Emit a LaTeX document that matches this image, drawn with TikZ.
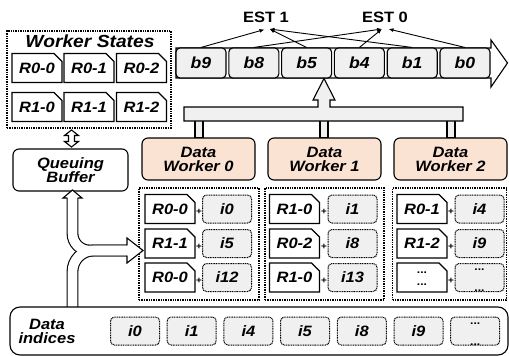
\documentclass[tikz,border=0pt]{standalone}
\usepackage{fontspec}
\setmainfont{Liberation Sans}[FakeStretch=1.1]
\usetikzlibrary{arrows.meta,shapes.misc,calc}
\definecolor{peach}{HTML}{FBE3D4}
\definecolor{lgray}{HTML}{F0F0F0}
\begin{document}
\begin{tikzpicture}[x=1pt,y=-1pt,
  lab/.style={font=\fontsize{15}{16}\selectfont\bfseries\itshape},
  dotbox/.style={draw, line width=1.4pt, dash pattern=on 1.4pt off 1pt},
  ibox/.style={lab, draw, line width=1pt, dash pattern=on 1pt off 0.7pt, fill=lgray, rounded corners=4pt, minimum width=49pt, minimum height=28pt, inner sep=0pt},
  rbox/.style={lab, draw, line width=1.1pt, fill=white, chamfered rectangle, chamfered rectangle corners=north east, chamfered rectangle xsep=4pt, chamfered rectangle ysep=4pt, minimum width=50pt, minimum height=29pt, inner sep=0pt},
  bblock/.style={lab, font=\fontsize{16}{17}\selectfont\bfseries\itshape, draw, line width=1.1pt, fill=lgray, rounded corners=4pt, minimum width=50pt, minimum height=30pt, inner sep=0pt},
  worker/.style={lab, align=center, draw, line width=1.1pt, fill=peach, rounded corners=6pt, minimum width=113pt, minimum height=42pt, inner sep=0pt},
  plus/.style={font=\fontsize{9}{9}\selectfont\bfseries, inner sep=0pt},
  dots/.style={font=\fontsize{11}{11}\selectfont\bfseries, inner sep=0pt},
  est/.style={-{Latex[length=5pt,width=4pt]}, line width=0.9pt},
  hollow/.style={draw, line width=1.1pt, fill=white},
  edgeline/.style={line width=11.8pt},
  coreline/.style={line width=9.6pt, white}
]
\path[use as bounding box, fill=white] (0,0) rectangle (509,356);

% ---------- big timeline arrow ----------
\draw[hollow] (176,48) -- (491,48) -- (491,40) -- (507.5,63) -- (491,87) -- (491,78) -- (176,78) -- cycle;
\foreach \n/\k in {b9/0,b8/1,b5/2,b4/3,b1/4,b0/5}{
  \node[bblock] (\n) at ({201+52.8*\k},63) {\n};
}
\node[font=\fontsize{15}{16}\selectfont\bfseries, anchor=base] (est1) at (266,23) {EST 1};
\node[font=\fontsize{15}{16}\selectfont\bfseries, anchor=base] (est0) at (385,23) {EST 0};
\coordinate (t1a) at (264.5,29.5);
\coordinate (t1b) at (269.5,29);
\coordinate (t0a) at (382,29);
\coordinate (t0b) at (388.5,29);
\draw[est] (b9.north) -- (t1a);
\draw[est] (b5.north) -- (t1b);
\draw[est] (b1.north) -- (t1b);
\draw[est] (b8.north) -- (t0a);
\draw[est] (b4.north) -- (t0a);
\draw[est] (b0.north) -- (t0b);

% ---------- worker states ----------
\node[dotbox, fill=white, minimum width=164pt, minimum height=97pt, inner sep=0pt] (ws) at (89,79.5) {};
\node[lab, font=\fontsize{17.5}{18}\selectfont\bfseries\itshape, anchor=base] (wst) at (90,47) {Worker States};
\node[rbox] (s00) at (37,68) {R0-0};
\node[rbox] (s01) at (89,68) {R0-1};
\node[rbox] (s02) at (141.5,68) {R0-2};
\node[rbox] (s10) at (37,107) {R1-0};
\node[rbox] (s11) at (89,107) {R1-1};
\node[rbox] (s12) at (141.5,107) {R1-2};

% double arrow
\draw[hollow] (71.5,130) -- (78.5,135.5) -- (74.5,135.5) -- (74.5,141.5) -- (78.5,141.5) -- (71.5,147) -- (64.5,141.5) -- (68.5,141.5) -- (68.5,135.5) -- (64.5,135.5) -- cycle;

% queuing buffer
\node[lab, align=center, draw, line width=1.1pt, fill=white, rounded corners=6pt, minimum width=115pt, minimum height=42pt, inner sep=0pt] (qb) at (70.5,170) {Queuing\\[-2pt]Buffer};

% ---------- distribution bar ----------
\draw[hollow, fill=lgray] (195,120) rectangle (203,138);
\draw[hollow, fill=lgray] (320,120) rectangle (328,138);
\draw[hollow, fill=lgray] (447,120) rectangle (455,138);
\draw[hollow, fill=lgray] (184,121) -- (184,107) -- (318,107) -- (318,100) -- (313,100) -- (324,78.5) -- (335,100) -- (330,100) -- (330,107) -- (463,107) -- (463,121) -- cycle;

\node[worker] (dw0) at (198.5,159) {Data\\[-2pt]Worker 0};
\node[worker] (dw1) at (324.5,159) {Data\\[-2pt]Worker 1};
\node[worker] (dw2) at (450.5,159) {Data\\[-2pt]Worker 2};

% ---------- worker groups ----------
\node[dotbox, fill=white, minimum width=120pt, minimum height=112pt, inner sep=0pt] (g0) at (199,244) {};
\node[dotbox, fill=white, minimum width=119pt, minimum height=112pt, inner sep=0pt] (g1) at (324.5,244) {};
\node[dotbox, fill=white, minimum width=114pt, minimum height=112pt, inner sep=0pt] (g2) at (449.5,244) {};

\node[rbox] (r00) at (170,209) {R0-0};
\node[ibox] (j00) at (227,209) {i0};
\node[rbox] (r01) at (170,243.5) {R1-1};
\node[ibox] (j01) at (227,243.5) {i5};
\node[rbox] (r02) at (170,277.5) {R0-0};
\node[ibox] (j02) at (227,277.5) {i12};

\node[rbox] (r10) at (294.5,209) {R1-0};
\node[ibox] (j10) at (352.5,209) {i1};
\node[rbox] (r11) at (294.5,243.5) {R0-2};
\node[ibox] (j11) at (352.5,243.5) {i8};
\node[rbox] (r12) at (294.5,277.5) {R1-0};
\node[ibox] (j12) at (352.5,277.5) {i13};

\node[rbox] (r20) at (422,209) {R0-1};
\node[ibox] (j20) at (479.5,209) {i4};
\node[rbox] (r21) at (422,243.5) {R1-2};
\node[ibox] (j21) at (479.5,243.5) {i9};
\node[rbox] (r22) at (422,277.5) {\phantom{R0-0}};
\node[dots] (r22a) at (422,273) {...};
\node[dots] (r22b) at (422,285) {...};
\node[ibox] (j22) at (479.5,277.5) {};
\node[dots] (j22a) at (479.5,270) {...};
\node[dots] (j22b) at (479.5,290.5) {...};

\foreach \x in {199,324,451}{
  \foreach \y in {212,246.5,280.5}{
    \node[plus] at (\x,\y) {+};
  }
}

% ---------- fork arrow ----------
\coordinate (fk) at (72.5,250.5);
\coordinate (ftop) at (72.5,198);
\coordinate (fbot) at (72.5,307);
\coordinate (fright) at (127,250.5);
\draw[edgeline, rounded corners=17pt] (ftop) -- (fk) -- (fright);
\draw[edgeline, rounded corners=21pt] (fbot) -- (fk) -- (fright);
\draw[coreline, rounded corners=17pt] (ftop) -- (fk) -- (fright);
\draw[coreline, rounded corners=21pt] (fbot) -- (fk) -- (fright);
\filldraw[fill=white, line width=1.1pt] (67.3,198) -- (63,198) -- (72.5,190) -- (82,198) -- (77.7,198);
\filldraw[fill=white, line width=1.1pt] (127,245.3) -- (127,238) -- (143,250.5) -- (127,263) -- (127,255.7);

% ---------- data indices ----------
\node[draw, line width=1.1pt, fill=white, rounded corners=10pt, minimum width=498pt, minimum height=48pt, inner sep=0pt] (di) at (259,331) {};
\node[lab, align=center] (dit) at (47,331) {Data\\[-2pt]indices};
\node[ibox] (d0) at (135,331) {i0};
\node[ibox] (d1) at (191.7,331) {i1};
\node[ibox] (d2) at (248.4,331) {i4};
\node[ibox] (d3) at (305,331) {i5};
\node[ibox] (d4) at (361.8,331) {i8};
\node[ibox] (d5) at (418.5,331) {i9};
\node[ibox] (d6) at (475.2,331) {};
\node[dots] (d6a) at (475.2,324) {...};
\node[dots] (d6b) at (475.2,344.5) {...};
\end{tikzpicture}
\end{document}
